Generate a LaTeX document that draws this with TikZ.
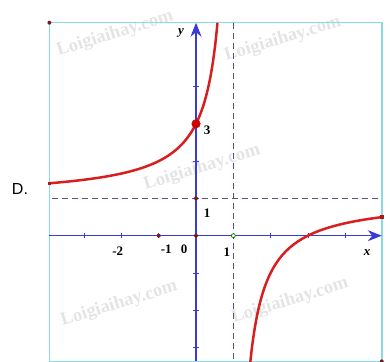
\documentclass[tikz,border=0pt]{standalone}
\usepackage{fontspec}
\setmainfont{Liberation Serif}
\newfontfamily\dsans{Liberation Sans}
\usetikzlibrary{arrows.meta}
\definecolor{boxcyan}{HTML}{86DCE4}
\definecolor{axisblue}{HTML}{3A3AD8}
\definecolor{curvered}{HTML}{D81E1E}
\definecolor{dotred}{HTML}{7A1A1A}
\definecolor{dashgray}{HTML}{55557A}
\definecolor{wmgray}{HTML}{E4E4E4}
\tikzset{
  axisline/.style={axisblue, line width=1.2pt, -{Stealth[length=14pt,width=11pt,inset=4.5pt]}},
  asym/.style={dashgray, line width=1pt, dash pattern=on 6pt off 4pt},
  graph/.style={curvered, line width=2.5pt},
  dotmark/.style={circle, fill=dotred, inner sep=0pt, minimum size=4pt},
  numlab/.style={font=\bfseries\fontsize{13}{13}\selectfont, inner sep=0pt},
  varlab/.style={font=\bfseries\itshape\fontsize{13}{13}\selectfont, inner sep=0pt},
  wmark/.style={font=\bfseries\fontsize{18.5}{18.5}\selectfont, text=wmgray, rotate=17, inner sep=0pt},
  endsq/.style={rectangle, fill=curvered!80!black, inner sep=0pt, minimum size=3.5pt},
  tickm/.style={axisblue, line width=0.8pt}
}
\begin{document}
\begin{tikzpicture}[x=37.3pt,y=37.3pt]
\useasboundingbox (-5.255,-3.386) rectangle (5.201,6.319);
% watermarks
\node[wmark] (w1) at (-2.17,5.41) {Loigiaihay.com};
\node[wmark] (w2) at (2.33,5.27) {Loigiaihay.com};
\node[wmark] (w3) at (0.16,1.82) {Loigiaihay.com};
\node[wmark] (w4) at (-2.06,-1.83) {Loigiaihay.com};
\node[wmark] (w5) at (2.52,-1.75) {Loigiaihay.com};
% frame
\draw[boxcyan, line width=1.5pt] (-3.93,-3.37) rectangle (4.98,5.71);
% asymptotes
\draw[asym] (-3.85,1) -- (4.98,1);
\draw[asym] (1,5.71) -- (1,-3.37);
% ticks
\foreach \t in {-3,-2,-1,1,2,3,4}
  \draw[tickm] (\t,-0.07) -- (\t,0.07);
\foreach \t in {-3,-2,-1,1,2,3,4}
  \draw[tickm] (-0.07,\t) -- (0.07,\t);
% axes
\coordinate (xs) at (-3.93,0);
\coordinate (xe) at (4.98,0);
\coordinate (ys) at (0,-3.37);
\coordinate (ye) at (0,5.71);
\draw[axisline] (xs) -- (xe);
\draw[axisline] (ys) -- (ye);
% curve y = 1 - 2/(x-1)
\draw[graph, domain=-3.93:0.575, samples=120, smooth] plot (\x,{1-2/(\x-1)});
\draw[graph, domain=1.453:4.98, samples=120, smooth] plot (\x,{1-2/(\x-1)});
\node[endsq] (eL) at (-3.93,1.4) {};
\node[endsq] (eR) at (4.98,0.497) {};
% points
\node[dotmark] (c1) at (-3.93,5.71) {};
\node[dotmark] (c2) at (4.98,-3.37) {};
\node[dotmark] (pm1) at (-1,0) {};
\node[dotmark] (p00) at (0,0) {};
\node[dotmark] (p01) at (0,1) {};
\node[circle, draw=green!50!black, fill=white, line width=0.7pt, inner sep=0pt, minimum size=4pt] (p10) at (1,0) {};
\node[circle, fill=red!85!black, draw=curvered!70!black, line width=0.5pt, inner sep=0pt, minimum size=8.5pt] (p03) at (0,3) {};
% labels
\node[numlab] (l3) at (0.295,2.834) {3};
\node[numlab] (l1y) at (0.295,0.609) {1};
\node[numlab] (lm2) at (-2.1,-0.41) {-2};
\node[numlab] (lm1) at (-0.8,-0.36) {-1};
\node[numlab] (l0) at (-0.32,-0.36) {0};
\node[numlab] (l1x) at (0.83,-0.44) {1};
\node[varlab] (lx) at (4.59,-0.46) {x};
\node[varlab] (ly) at (-0.4,5.43) {y};
\node[font=\dsans\fontsize{16}{16}\selectfont, inner sep=0pt] (lD) at (-4.72,1.25) {D.};
\end{tikzpicture}
\end{document}
